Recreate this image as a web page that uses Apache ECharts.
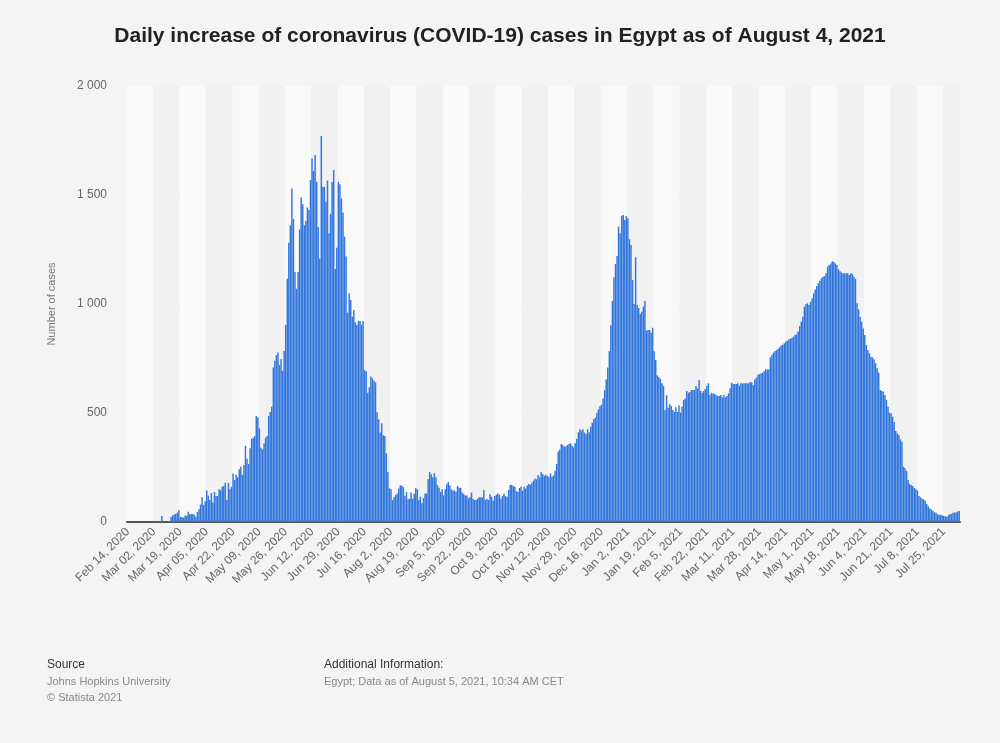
<!DOCTYPE html>
<html>
<head>
<meta charset="utf-8">
<title>Daily increase of coronavirus (COVID-19) cases in Egypt</title>
<script src="https://cdn.jsdelivr.net/npm/echarts@6/dist/echarts.min.js"></script>
<style>
  html, body { margin: 0; padding: 0; background: #f4f4f4; }
  #chart { width: 1000px; height: 743px; }
</style>
</head>
<body>
<div id="chart"></div>
<script>
// daily new cases, one value per day from Feb 14, 2020
const firstWave = [ // Feb 14 - Aug 13, 2020
  1, 0, 0, 0, 0, 0, 0, 0, 0, 0, 0, 0, 0, 0, 0, 0, 1, 0, 0, 0,
  1, 3, 28, 0, 0, 0, 0, 5, 23, 30,
  34, 37, 43, 54, 23, 23, 20, 30, 28, 47,
  35, 37, 37, 33, 24, 46, 58, 80, 113, 78,
  95, 144, 121, 101, 133, 90, 138, 119, 119, 150,
  145, 162, 165, 180, 101, 180, 150, 162, 223, 193,
  217, 205, 242, 254, 216, 261, 350, 290, 266, 338,
  382, 387, 395, 486, 479, 430, 341, 333, 360,
  387, 394, 486, 505, 529, 709, 740, 766, 777, 720,
  746, 693, 784, 904, 1116, 1281, 1361, 1530, 1390, 1147,
  1070, 1147, 1342, 1488, 1457, 1361, 1381, 1443, 1431, 1569,
  1668, 1610, 1683, 1561, 1353, 1209, 1771, 1537, 1538, 1469,
  1567, 1324, 1414, 1560, 1615, 1161, 1258, 1561, 1549,
  1484, 1420, 1310, 1218,
  960, 1049, 1018, 942, 972, 916, 904, 922, 922, 904,
  922, 697, 690, 593, 618, 667, 659, 648, 640, 503,
  471, 411, 453, 398, 394, 315, 229, 154, 150, 101,
  113, 124, 131, 154, 168, 168, 160, 119, 138, 104
]
const summerLull = [ // Aug 14 - Nov 25, 2020
  107, 135, 107, 130, 156, 150, 101, 116, 86, 110,
  131, 131, 197, 229, 219, 205, 225, 205, 170, 157,
  138, 150, 122, 150, 173, 183, 168, 150, 145, 145,
  139, 165, 157, 157, 135, 128, 122, 122, 109, 113,
  135, 107, 101, 101, 107, 113, 113, 113, 147, 101,
  105, 101,
  127, 116, 98, 119, 125, 131, 125, 107, 119, 131,
  119, 116, 147, 170, 170, 165, 162, 141, 138, 156,
  162, 144, 162, 153, 168, 174, 171, 180, 190, 199,
  196, 216, 205, 229, 220, 211, 217, 211, 205, 223,
  208, 214, 235, 266, 323, 333, 358, 353, 346
]
const secondWave = [ // Nov 26, 2020 - Mar 2, 2021
  346, 353, 358, 361, 349, 343, 361, 382, 411, 425,
  419, 425, 410, 404, 425, 411, 437, 456, 472, 479,
  501, 517, 532, 538, 566, 605, 654, 709, 784, 902,
  1015, 1122, 1183, 1220, 1355, 1324, 1405, 1408, 1385, 1404,
  1393, 1297, 1271, 1110, 1000, 1214, 995, 982, 954,
  965, 988, 1014, 878, 881, 881, 868, 891, 783, 743,
  673, 664, 657, 636, 624, 514, 581, 524, 540, 532,
  514, 505, 526, 505, 534, 502, 529, 560, 566, 601,
  593, 596, 605, 605, 605, 624, 613, 651, 601, 593,
  601, 610, 624, 636, 583, 593, 590, 587, 583, 578,
  578
]
const thirdWave = [ // Mar 3 - Aug 4, 2021
  583, 572, 583, 572, 578, 590, 613, 639, 633,
  633, 633, 636, 625, 636, 636, 636, 636, 636, 636,
  642, 640, 628, 654, 662, 676, 679, 682, 685, 691,
  700, 700, 700, 755, 766, 777, 784, 789, 795, 801,
  810, 813, 820, 827, 832, 838, 841, 844, 850, 858,
  861, 875, 899, 919, 942, 988, 1000, 1003, 995, 1011,
  1026, 1049, 1067, 1083, 1095, 1107, 1118, 1125, 1128, 1141,
  1171, 1179, 1186, 1196, 1193, 1186, 1179, 1159, 1150, 1144,
  1141, 1141, 1141, 1141, 1133, 1141, 1138, 1125, 1115, 1003,
  976, 942, 919, 888, 858, 812, 789, 774, 758, 755,
  746, 728, 705, 685, 605, 601, 598, 583, 560, 529,
  501, 498, 483, 459, 417, 407, 399, 379, 368, 254,
  246, 234, 193, 174, 170, 165, 156, 150, 144, 119,
  113, 107, 104, 98, 83, 72, 62, 58, 52, 45,
  43, 36, 33, 32, 31, 28, 26, 24, 31, 37,
  37, 43, 43, 44, 49, 50
]

// x labels as printed, one every 17 days
const tickLabels = [
  'Feb 14, 2020', 'Mar 02, 2020', 'Mar 19, 2020', 'Apr 05, 2020', 'Apr 22, 2020',
  'May 09, 2020', 'May 26, 2020', 'Jun 12, 2020', 'Jun 29, 2020', 'Jul 16, 2020',
  'Aug 2, 2020', 'Aug 19, 2020', 'Sep 5, 2020', 'Sep 22, 2020', 'Oct 9, 2020',
  'Oct 26, 2020', 'Nov 12, 2020', 'Nov 29, 2020', 'Dec 16, 2020', 'Jan 2, 2021',
  'Jan 19, 2021', 'Feb 5, 2021', 'Feb 22, 2021', 'Mar 11, 2021', 'Mar 28, 2021',
  'Apr 14, 2021', 'May 1, 2021', 'May 18, 2021', 'Jun 4, 2021', 'Jun 21, 2021',
  'Jul 8, 2021', 'Jul 25, 2021'
]
const labelStep = 17

const cases = firstWave.concat(summerLull, secondWave, thirdWave)

// one category per day
const days = []
const start = Date.UTC(2020, 1, 14)
for (let i = 0; i < cases.length; i++) {
  days.push(new Date(start + i * 86400000).toISOString().slice(0, 10))
}

const font = '"Liberation Sans", Arial, sans-serif'
const chart = echarts.init(document.getElementById('chart'))

const option = {
  backgroundColor: '#f4f4f4',
  animation: false,
  title: {
    text: 'Daily increase of coronavirus (COVID-19) cases in Egypt as of August 4, 2021',
    left: 'center',
    top: 21,
    textStyle: { fontFamily: font, fontSize: 21, fontWeight: 'bold', color: '#222' }
  },
  grid: { left: 127, right: 40, top: 86, bottom: 221 },
  xAxis: {
    type: 'category',
    data: days,
    axisLine: { lineStyle: { color: '#555', width: 2 } },
    axisTick: { show: false },
    splitArea: {
      show: true,
      interval: labelStep - 1,
      areaStyle: { color: ['#f9f9f9', '#f1f1f1'] }
    },
    axisLabel: {
      interval: labelStep - 1,
      rotate: 45,
      margin: 8,
      fontFamily: font,
      fontSize: 12,
      color: '#666',
      formatter: (v, i) => tickLabels[Math.round(i / labelStep)] || ''
    }
  },
  yAxis: {
    type: 'value',
    min: 0,
    max: 2000,
    interval: 500,
    name: 'Number of cases',
    nameLocation: 'middle',
    nameGap: 70,
    nameTextStyle: { fontFamily: font, fontSize: 11, color: '#777' },
    axisLine: { show: false },
    axisTick: { show: false },
    axisLabel: {
      margin: 20,
      fontFamily: font,
      fontSize: 12,
      color: '#666',
      formatter: v => String(v).replace(/\B(?=(\d{3})+(?!\d))/g, ' ')
    },
    splitLine: { lineStyle: { color: '#c8c8c8', type: 'dotted' } }
  },
  series: [{
    type: 'bar',
    data: cases,
    barCategoryGap: '5%',
    itemStyle: { color: '#3377dd' }
  }],
  graphic: [
    { type: 'text', left: 47, top: 659, style: { text: 'Source', font: '12px ' + font, fill: '#333' } },
    { type: 'text', left: 47, top: 676, style: { text: 'Johns Hopkins University', font: '11px ' + font, fill: '#888' } },
    { type: 'text', left: 47, top: 692, style: { text: '© Statista 2021', font: '11px ' + font, fill: '#888' } },
    { type: 'text', left: 324, top: 659, style: { text: 'Additional Information:', font: '12px ' + font, fill: '#333' } },
    { type: 'text', left: 324, top: 676, style: { text: 'Egypt; Data as of August 5, 2021, 10:34 AM CET', font: '11px ' + font, fill: '#888' } }
  ]
}

chart.setOption(option)
</script>
</body>
</html>
